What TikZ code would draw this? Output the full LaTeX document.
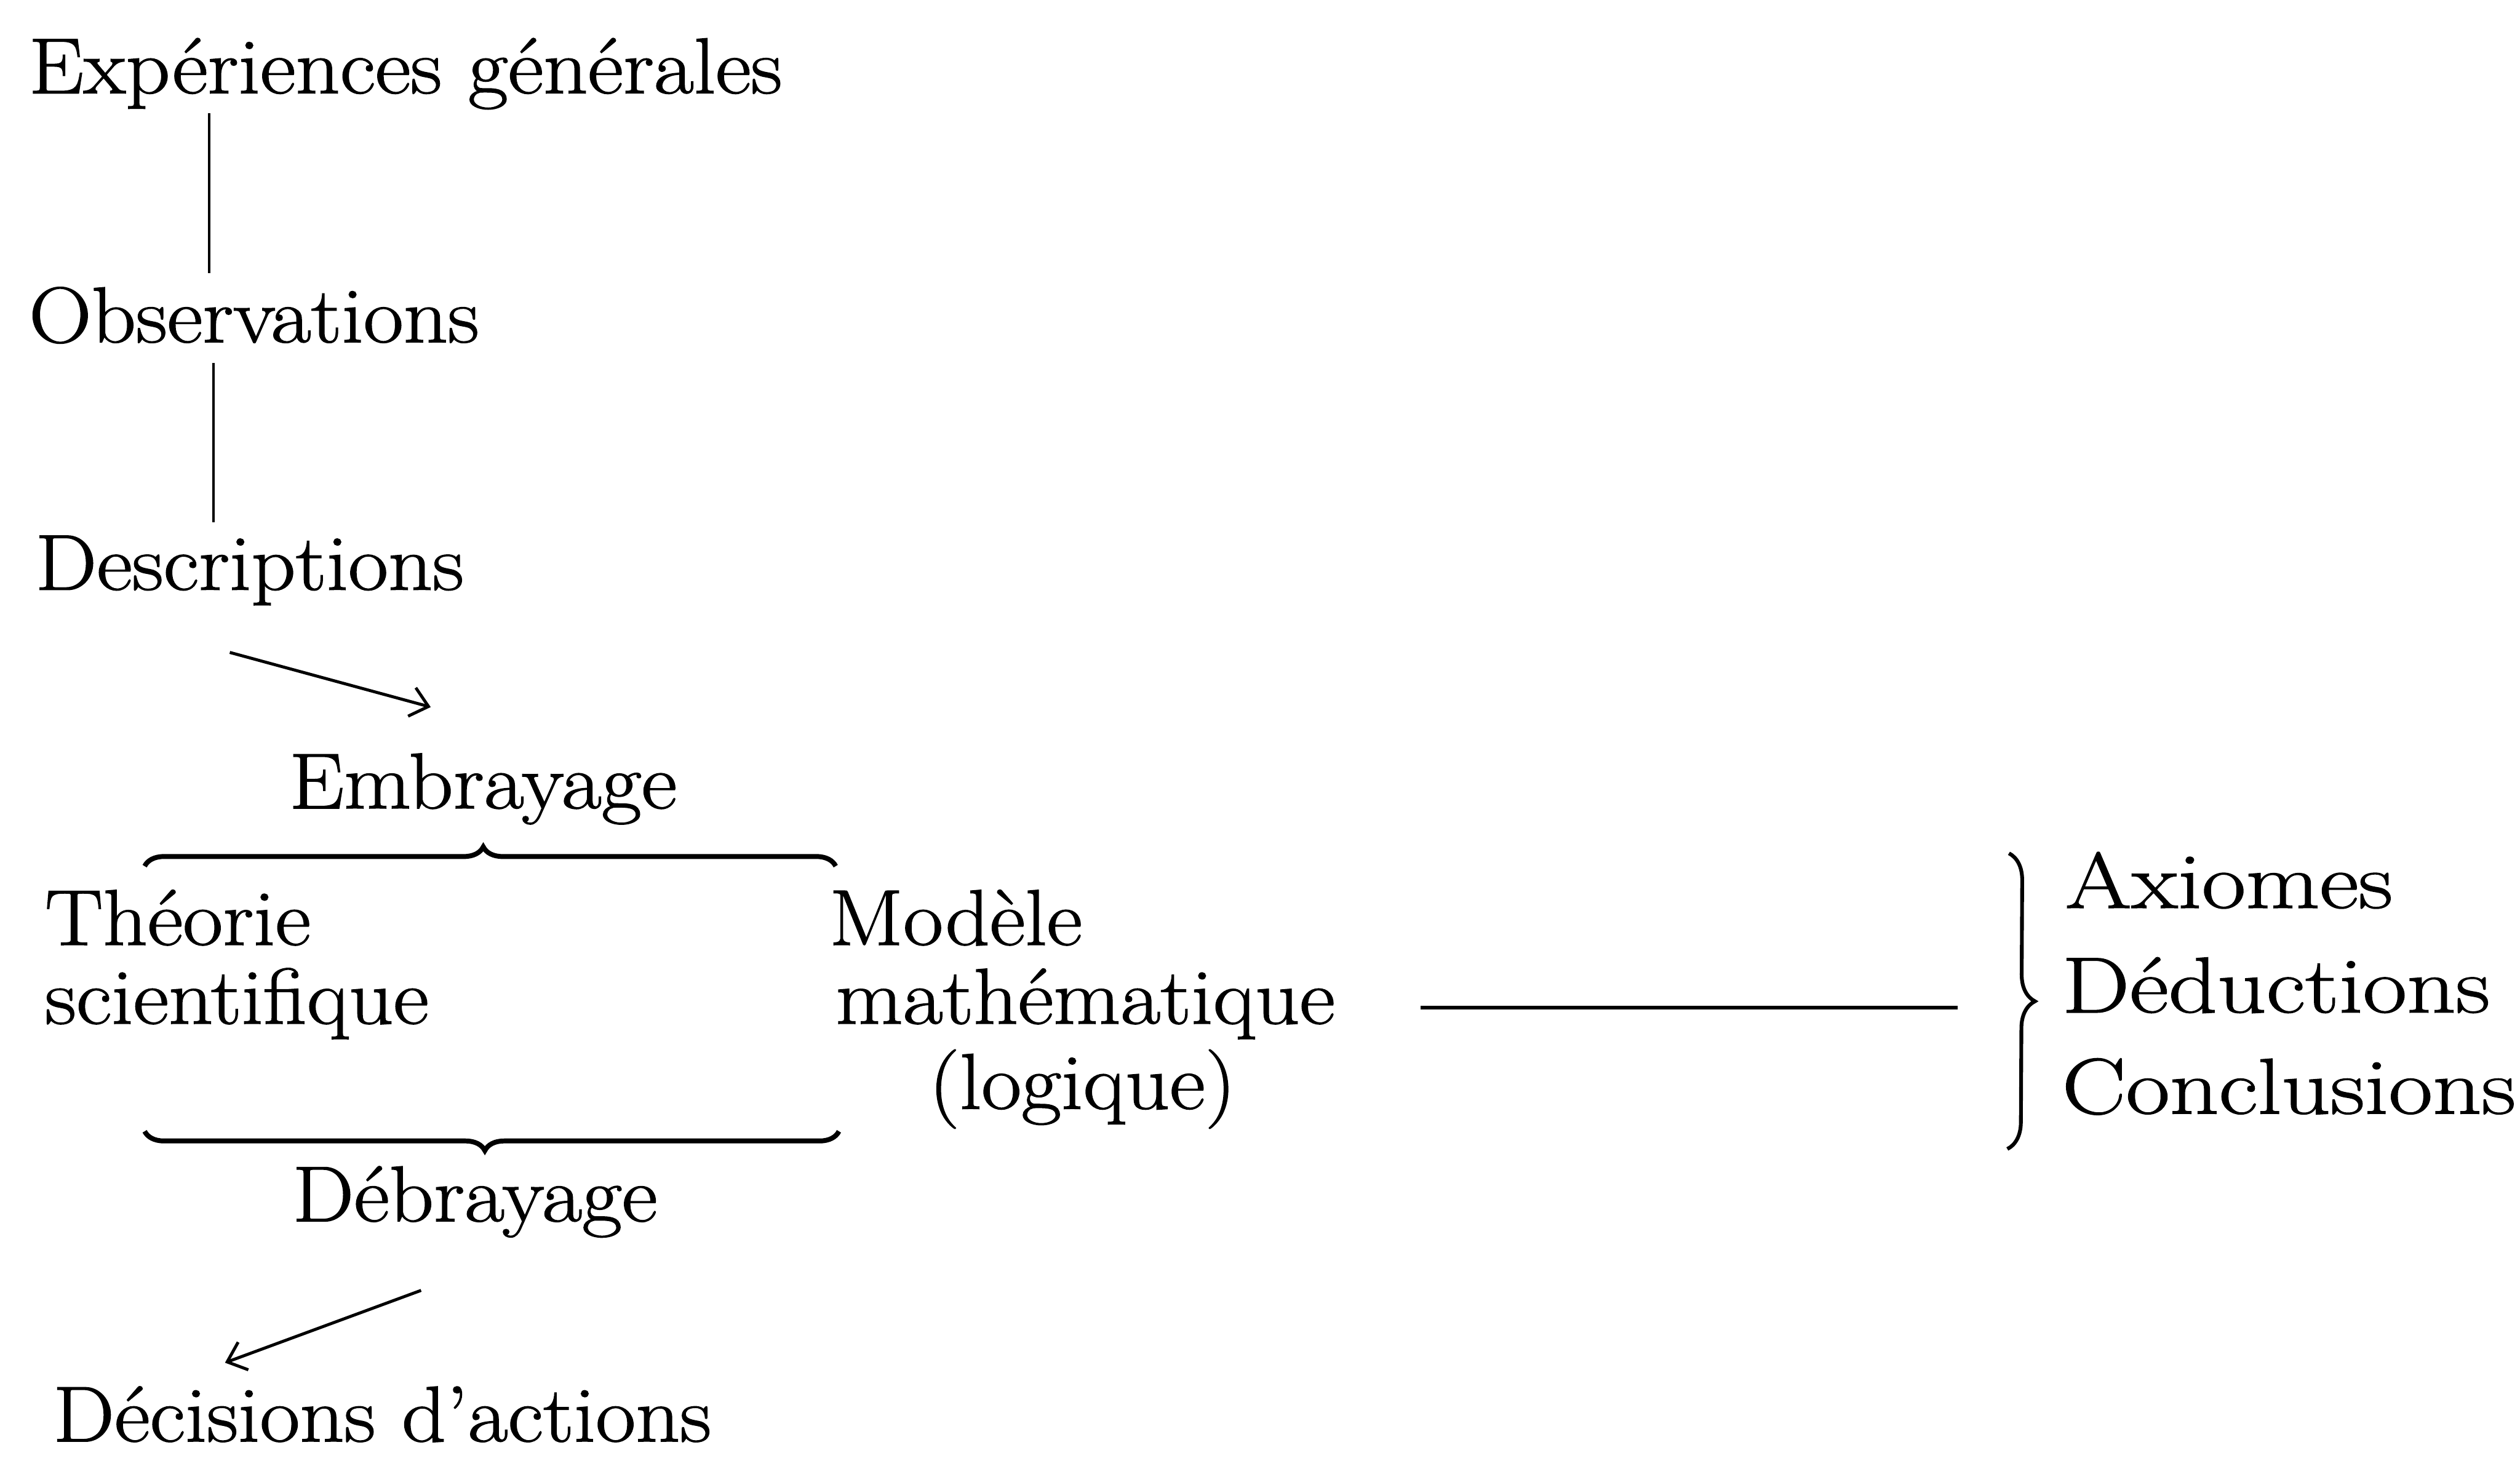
\documentclass[tikz,border=0pt]{standalone}
\usepackage{fontspec}
\setmainfont{Latin Modern Roman}[FakeStretch=1.1,FakeBold=1.2]
\newfontfamily\widefont{Latin Modern Roman}[FakeStretch=1.21,FakeBold=1.2]
\usetikzlibrary{decorations.pathreplacing,arrows.meta}
\begin{document}
\begin{tikzpicture}[x=0.03cm,y=-0.03cm,
  lbl/.style={anchor=base west, inner sep=0pt, outer sep=0pt, font=\fontsize{42}{44}\selectfont},
  widelbl/.style={lbl, font=\widefont\fontsize{42}{44}\selectfont},
  thinline/.style={line width=1.3pt},
  arr/.style={line width=1.6pt, -{Straight Barb[length=3.2mm,width=5.5mm,line width=1.6pt]}},
  hbrace/.style={line width=2.6pt, decorate, decoration={brace, amplitude=0.36cm, aspect=0.49}},
  vbrace/.style={line width=2pt, decorate, decoration={brace, amplitude=0.5cm}}]
\useasboundingbox (0,0) rectangle (1568,914);

\node[lbl] (exp) at (18,58) {Expériences générales};
\node[lbl] (obs) at (18,213) {Observations};
\node[lbl] (desc) at (22,367) {Descriptions};
\node[lbl] (emb) at (180,503) {Embrayage};
\node[lbl] (theo) at (28,588) {Théorie};
\node[lbl] (sci) at (28,637) {scientifique};
\node[lbl] (mod) at (516,588) {Modèle};
\node[lbl] (math) at (520,637) {mathématique};
\node[lbl] (logi) at (578,690) {(logique)};
\node[lbl] (debr) at (182,760) {Débrayage};
\node[lbl] (dec) at (33,897) {Décisions d'actions};
\node[widelbl] (axi) at (1285,565) {Axiomes};
\node[widelbl] (ded) at (1283,630) {Déductions};
\node[widelbl] (concl) at (1283,693) {Conclusions};

\coordinate (l1) at (130,0);
\coordinate (l2) at (133,0);
\draw[thinline, shorten <=0.07cm, shorten >=0.26cm] (exp.south -| l1) -- (obs.north -| l1);
\draw[thinline, shorten <=0.36cm, shorten >=0.25cm] (obs.south -| l2) -- (desc.north -| l2);

\draw[arr] ([shift={(121,39)}]desc.base west) -- ([shift={(88,-63)}]emb.base west);
\draw[arr] ([shift={(80,43)}]debr.base west) -- ([shift={(107,-49)}]dec.base west);

\draw[hbrace] ([shift={(62,-49)}]theo.base west) -- ([shift={(4,-49)}]mod.base west);
\draw[hbrace] ([shift={(-488,14)}]logi.base west) -- ([shift={(-56,14)}]logi.base west)
  [decoration={mirror}];
\draw[vbrace] ([shift={(-35,-34)}]axi.base west) -- ([shift={(-34,22)}]concl.base west);

\draw[line width=2pt] ([shift={(364,-10)}]math.base west) -- ([shift={(-65,-3)}]ded.base west);
\end{tikzpicture}
\end{document}
